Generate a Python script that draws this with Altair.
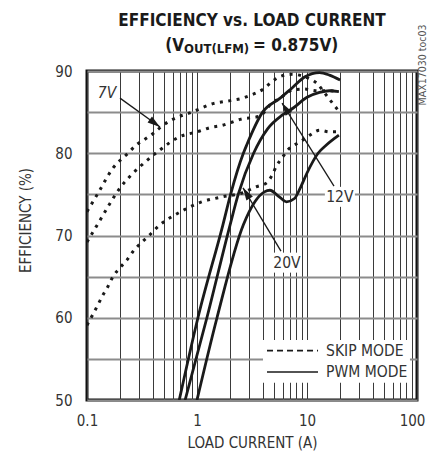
import altair as alt
import pandas as pd

FONT = "DejaVu Sans Condensed, Liberation Sans Narrow, sans-serif"

# ---------------- data ----------------
# SKIP mode (dotted)
skip7_x = [0.1, 0.128, 0.172, 0.236, 0.28, 0.336, 0.4, 0.47, 0.56, 0.67, 0.86, 1.06, 1.3, 2.0, 2.6, 3.0, 4.0, 4.8, 5.9, 7.4, 9.5, 12.3, 15.5, 19.0]
skip7_y = [72.9, 75.3, 78.2, 80.0, 81.0, 81.7, 82.4, 83.2, 83.9, 84.4, 84.9, 85.4, 85.9, 86.4, 86.7, 87.0, 87.8, 88.7, 89.4, 89.6, 89.3, 88.5, 86.8, 85.3]

skip12_x = [0.1, 0.113, 0.128, 0.16, 0.2, 0.25, 0.316, 0.46, 0.67, 1.06, 1.3, 1.7, 2.1, 2.6, 3.0, 3.7, 4.8, 5.7, 7.4, 9.5, 12.0, 16.0, 19.5]
skip12_y = [69.2, 70.4, 71.6, 73.8, 75.8, 77.3, 78.6, 80.4, 81.9, 82.7, 83.1, 83.4, 83.8, 84.2, 84.3, 84.5, 86.1, 86.7, 87.7, 87.8, 87.6, 87.6, 87.5]

skip20_x = [0.1, 0.113, 0.126, 0.14, 0.155, 0.172, 0.2, 0.23, 0.26, 0.31, 0.36, 0.46, 0.67, 1.06, 1.7, 2.6, 3.4, 4.3, 4.8, 5.3, 5.9, 6.7, 8.7, 10.6, 13.0, 16.0, 19.0]
skip20_y = [59.1, 60.4, 61.6, 62.8, 63.8, 65.0, 66.1, 67.0, 68.0, 69.1, 69.9, 71.3, 72.7, 74.0, 74.7, 75.2, 75.9, 76.4, 77.3, 78.5, 79.4, 80.4, 81.4, 82.2, 82.8, 82.6, 82.6]

# PWM mode (solid)
pwm7_x = [0.69, 1.02, 1.72, 2.02, 2.64, 2.83, 3.95, 5.7, 7.4, 9.6, 13.0, 16.0, 20.0]
pwm7_y = [50.0, 60.0, 71.3, 75.0, 80.0, 81.0, 85.0, 86.7, 88.0, 89.3, 89.8, 89.5, 88.9]

pwm12_x = [0.78, 1.23, 2.0, 2.37, 3.27, 4.4, 5.9, 7.5, 10.0, 13.0, 16.0, 19.5]
pwm12_y = [50.0, 60.0, 71.3, 75.0, 80.0, 83.0, 84.6, 85.5, 86.8, 87.4, 87.6, 87.5]

pwm20_x = [1.0, 1.52, 2.64, 3.36, 4.1, 4.6, 5.6, 6.5, 7.7, 8.7, 10.0, 12.6, 15.0, 19.5]
pwm20_y = [50.0, 60.0, 71.3, 74.1, 75.3, 75.5, 74.7, 74.1, 74.5, 75.8, 77.6, 80.0, 81.0, 82.2]

# axis ticks
x_ticks = [0.1, 0.2, 0.3, 0.4, 0.5, 0.6, 0.7, 0.8, 0.9,
           1, 2, 3, 4, 5, 6, 7, 8, 9,
           10, 20, 30, 40, 50, 60, 70, 80, 90, 100]
y_ticks = [50, 55, 60, 65, 70, 75, 80, 85, 90]

# texts
title_line1 = "EFFICIENCY vs. LOAD CURRENT"
title_line2 = ["(V", "OUT(LFM)", " = 0.875V)"]
x_title = "LOAD CURRENT (A)"
y_title = "EFFICIENCY (%)"
side_note = "MAX17030 toc03"

# annotations (data coordinates)
ann_text = ["7V", "12V", "20V"]
ann_x = [0.152, 19.9, 6.58]
ann_y = [87.3, 74.7, 66.7]
arrow_x = [0.1995, 17.6, 5.8]
arrow_y = [86.7, 76.0, 68.1]
arrow_x2 = [0.461, 5.93, 2.62]
arrow_y2 = [83.2, 86.1, 75.8]
arrow_angle = [126, 327.5, 328.5]

# legend
legend_labels = ["SKIP MODE", "PWM MODE"]
legend_box = dict(x=3.98, x2=86.3, y=52.1, y2=57.3)
legend_line_x = [4.33, 12.6]
legend_line_y = [56.0, 53.4]
legend_text_x = 14.9

# ---------------- build ----------------
rows = []
for name, mode, xs, ys in [
    ("7V skip", "SKIP", skip7_x, skip7_y),
    ("12V skip", "SKIP", skip12_x, skip12_y),
    ("20V skip", "SKIP", skip20_x, skip20_y),
    ("7V pwm", "PWM", pwm7_x, pwm7_y),
    ("12V pwm", "PWM", pwm12_x, pwm12_y),
    ("20V pwm", "PWM", pwm20_x, pwm20_y),
]:
    for x, y in zip(xs, ys):
        rows.append({"series": name, "mode": mode, "current": x, "eff": y})
df = pd.DataFrame(rows)

xscale = alt.Scale(type="log", domain=[0.1, 100], nice=False)
yscale = alt.Scale(domain=[50, 90], nice=False, zero=False)

x_axis = alt.Axis(
    values=x_ticks, grid=True, gridColor="#3a3a3a", gridWidth=1, ticks=False, domain=False,
    labelExpr="datum.value == 0.1 || datum.value == 1 || datum.value == 10 || datum.value == 100 ? datum.label : ''",
    format="~g", labelFont=FONT, labelFontSize=15, labelColor="#333", labelPadding=13,
    labelFlush=False, labelOverlap=False,
    labelOffset={"condition": {"test": "datum.value == 100", "value": -5}, "value": 0},
    title=x_title, titleFont=FONT, titleFontSize=15, titleFontWeight="normal", titleColor="#333",
    titleX=165, titleY=42, titleBaseline="middle", titleAlign="center",
)
y_axis = alt.Axis(
    values=y_ticks, grid=True, gridColor="#8c8c8c", gridWidth=1.8, ticks=False, domain=False,
    labelExpr="datum.value % 10 == 0 ? datum.label : ''",
    labelFont=FONT, labelFontSize=15, labelColor="#333", labelPadding=15,
    labelFlush=False, labelOverlap=False,
    title=y_title, titleFont=FONT, titleFontSize=15, titleFontWeight="normal", titleColor="#333",
    titleX=-62, titleY=149, titleAngle=270, titleAlign="center", titleBaseline="middle",
)

X = alt.X("current:Q", scale=xscale, axis=x_axis)
Y = alt.Y("eff:Q", scale=yscale, axis=y_axis)

base = alt.Chart(df)
skip_lines = base.transform_filter(alt.datum.mode == "SKIP").mark_line(
    strokeDash=[3, 5.5], strokeWidth=3, color="#1a1a1a", interpolate="monotone", clip=True, strokeCap="butt"
).encode(x=X, y=Y, detail="series:N")
pwm_lines = base.transform_filter(alt.datum.mode == "PWM").mark_line(
    strokeWidth=2.8, color="#1a1a1a", interpolate="monotone", clip=True
).encode(x=X, y=Y, detail="series:N")

# legend
leg_box = alt.Chart(pd.DataFrame([legend_box])).mark_rect(color="white").encode(
    x=alt.X("x:Q", scale=xscale), x2="x2:Q", y=alt.Y("y:Q", scale=yscale), y2="y2:Q")
leg_df = pd.DataFrame({
    "label": legend_labels, "x": [legend_line_x[0]] * 2, "x2": [legend_line_x[1]] * 2,
    "y": legend_line_y, "tx": [legend_text_x] * 2,
})
leg_skip = alt.Chart(leg_df.iloc[[0]]).mark_rule(strokeDash=[6, 4], strokeWidth=1.6, color="#1a1a1a").encode(
    x=alt.X("x:Q", scale=xscale), x2="x2:Q", y=alt.Y("y:Q", scale=yscale))
leg_pwm = alt.Chart(leg_df.iloc[[1]]).mark_rule(strokeWidth=1.6, color="#1a1a1a").encode(
    x=alt.X("x:Q", scale=xscale), x2="x2:Q", y=alt.Y("y:Q", scale=yscale))
leg_text = alt.Chart(leg_df).mark_text(font=FONT, fontSize=15.5, align="left", baseline="middle", color="#333").encode(
    x=alt.X("tx:Q", scale=xscale), y=alt.Y("y:Q", scale=yscale), text="label:N")

# annotations
ann_df = pd.DataFrame({
    "text": ann_text, "x": ann_x, "y": ann_y,
    "ax": arrow_x, "ay": arrow_y, "ax2": arrow_x2, "ay2": arrow_y2, "angle": arrow_angle,
})
arrow_lines = alt.Chart(ann_df).mark_rule(strokeWidth=1.3, color="#1a1a1a").encode(
    x=alt.X("ax:Q", scale=xscale), x2="ax2:Q", y=alt.Y("ay:Q", scale=yscale), y2="ay2:Q")
arrow_heads = alt.Chart(ann_df).mark_point(
    shape="M0,0L0.6,2L-0.6,2Z", filled=True, size=160, color="#1a1a1a", opacity=1
).encode(x=alt.X("ax2:Q", scale=xscale), y=alt.Y("ay2:Q", scale=yscale), angle=alt.Angle("angle:Q", scale=None))
label_boxes = alt.Chart(ann_df.iloc[1:]).mark_point(
    shape="M-1.5,-1L1.5,-1L1.5,1L-1.5,1Z", filled=True, size=400, color="white", opacity=1
).encode(x=alt.X("x:Q", scale=xscale), y=alt.Y("y:Q", scale=yscale))
label_7 = alt.Chart(ann_df.iloc[[0]]).mark_text(
    font=FONT, fontSize=15.5, fontStyle="italic", color="#333", baseline="middle", align="center"
).encode(x=alt.X("x:Q", scale=xscale), y=alt.Y("y:Q", scale=yscale), text="text:N")
label_other = alt.Chart(ann_df.iloc[1:]).mark_text(
    font=FONT, fontSize=15.5, color="#333", baseline="middle", align="center"
).encode(x=alt.X("x:Q", scale=xscale), y=alt.Y("y:Q", scale=yscale), text="text:N")

# title pieces (pixel positions relative to plot area)
t1 = alt.Chart(pd.DataFrame({"t": [title_line1]})).mark_text(
    font=FONT, fontSize=17, fontWeight="bold", color="#1a1a1a", align="center", baseline="alphabetic"
).encode(x=alt.value(165), y=alt.value(-45), text="t:N")
t2a = alt.Chart(pd.DataFrame({"t": [title_line2[0]]})).mark_text(
    font=FONT, fontSize=17, fontWeight="bold", color="#1a1a1a", align="right", baseline="alphabetic"
).encode(x=alt.value(97), y=alt.value(-20), text="t:N")
t2b = alt.Chart(pd.DataFrame({"t": [title_line2[1]]})).mark_text(
    font=FONT, fontSize=13, fontWeight="bold", color="#1a1a1a", align="left", baseline="alphabetic"
).encode(x=alt.value(97), y=alt.value(-18), text="t:N")
t2c = alt.Chart(pd.DataFrame({"t": [title_line2[2]]})).mark_text(
    font=FONT, fontSize=17, fontWeight="bold", color="#1a1a1a", align="left", baseline="alphabetic"
).encode(x=alt.value(166), y=alt.value(-20), text="t:N")
side = alt.Chart(pd.DataFrame({"t": [side_note]})).mark_text(
    font=FONT, fontSize=10.5, color="#555", align="center", baseline="middle", angle=270
).encode(x=alt.value(336), y=alt.value(-6), text="t:N")

chart = alt.layer(
    leg_box, skip_lines, pwm_lines, leg_skip, leg_pwm, leg_text,
    arrow_lines, arrow_heads, label_boxes, label_7, label_other,
    t1, t2a, t2b, t2c, side,
).properties(
    width=330, height=329,
    autosize=alt.AutoSizeParams(type="none"),
    padding={"left": 79, "top": 63, "right": 10, "bottom": 51},
).configure_view(stroke="#111", strokeWidth=3)

chart.save("out.html", embed_options={"renderer": "svg", "actions": False})
